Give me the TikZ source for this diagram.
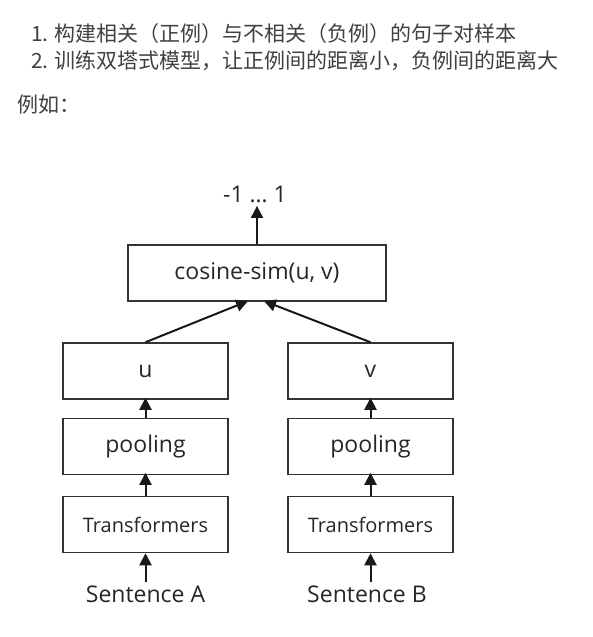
\documentclass[tikz,border=0pt]{standalone}
\usepackage{fontspec}
\setmainfont{Open Sans}
\newfontfamily\cjk{Noto Sans CJK SC}
\usetikzlibrary{arrows.meta}
\begin{document}
\begin{tikzpicture}[x=1pt, y=-1pt,
  line/.style={draw=black!80, line width=1.5pt},
  layer/.style={line, minimum width=165pt, minimum height=56pt, inner sep=0pt, text=black!85, font=\fontsize{23}{26}\selectfont},
  flow/.style={black!90, line width=2pt, -{Triangle[width=12pt,length=12pt]}},
  note/.style={anchor=west, inner sep=0pt, text=black!75, font=\cjk\fontsize{21}{24}\selectfont}]
  \useasboundingbox[fill=white] (0,0) rectangle (592,637);
  % notes on top
  \node[note] (step1) at (31,34) {1. 构建相关（正例）与不相关（负例）的句子对样本};
  \node[note] (step2) at (31,61) {2. 训练双塔式模型，让正例间的距离小，负例间的距离大};
  \node[note] (eg) at (17,105) {例如：};
  % output
  \node[text=black!85, font=\fontsize{23}{26}\selectfont] (out) at (255,194) {-1 \dots\ 1};
  \node[layer, minimum width=258pt] (cos) at (257,273) {cosine-sim(u, v)};
  % tower A
  \node[layer] (u) at (145.5,371) {u};
  \node[layer] (poolA) at (145.5,446.5) {pooling};
  \node[layer, font=\fontsize{20}{22}\selectfont] (transA) at (145.5,524.5) {Transformers};
  \node[text=black!85, font=\fontsize{23}{26}\selectfont] (sentA) at (145.5,594) {Sentence A};
  % tower B
  \node[layer] (v) at (370.5,371) {v};
  \node[layer] (poolB) at (370.5,446.5) {pooling};
  \node[layer, font=\fontsize{20}{22}\selectfont] (transB) at (370.5,524.5) {Transformers};
  \node[text=black!85, font=\fontsize{23}{26}\selectfont] (sentB) at (367,594) {Sentence B};
  % arrows
  \draw[flow] (cos.north) -- (cos.north |- out.south);
  \draw[flow] (u.north) -- (248,301);
  \draw[flow] (v.north) -- (264,301);
  \foreach \s in {A,B} {
    \draw[flow] (pool\s.north) -- ++(0,-20);
    \draw[flow] (trans\s.north) -- ++(0,-23);
  }
  \draw[flow] (sentA.north) -- (transA.south);
  \draw[flow] (sentB.north -| transB.south) -- (transB.south);
\end{tikzpicture}
\end{document}
